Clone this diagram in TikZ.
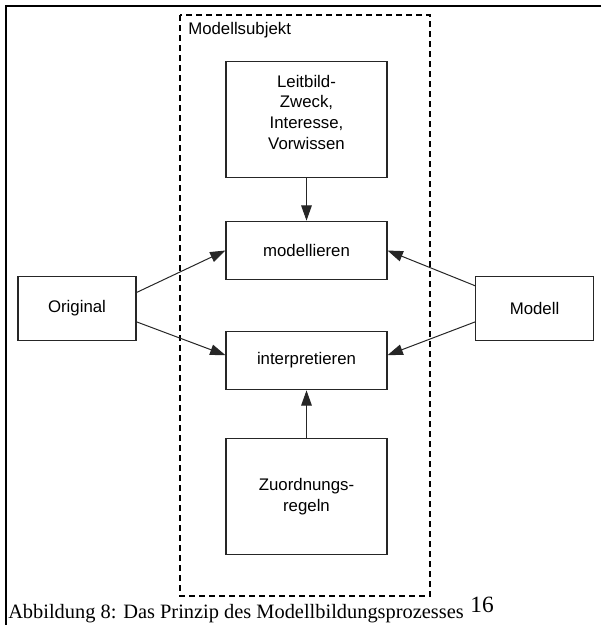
\documentclass[tikz,border=0pt]{standalone}
\usepackage{fontspec}
\setmainfont{Liberation Serif}
\newfontfamily\diagfont{Liberation Sans}
\usetikzlibrary{arrows.meta,calc}
\tikzset{
  px/.style={x=0.75pt,y=-0.75pt},
  diagtext/.style={font=\diagfont\fontsize{12.6pt}{15.5pt}\selectfont,align=center},
  box/.style={draw=black!85,line width=0.8pt,minimum width=120.75pt,diagtext,inner sep=0pt},
  link/.style={draw=black!85,line width=0.75pt,-{Triangle[length=11.5pt,width=8pt]}},
  frameline/.style={line width=1.6pt},
  subjectbox/.style={line width=1.4pt,dash pattern=on 4.5pt off 3pt}
}
\begin{document}
\begin{tikzpicture}[px]
\useasboundingbox (0,0) rectangle (601,625);
% outer frame (top and left edges)
\draw[frameline] (601,6) -- (6,6) -- (6,625);
% modelling subject
\draw[subjectbox] (180,15) rectangle (430,596);
\node[anchor=north west,diagtext,inner sep=0pt] (subj) at (188,22) {Modellsubjekt};
% boxes
\node[box,minimum height=87pt,
  label={[diagtext,yshift=5.5pt]center:Leitbild-\\Zweck,\\Interesse,\\Vorwissen}] (leit) at (306.5,119.5) {};
\node[box,minimum height=44pt] (mod) at (306.5,250.5) {modellieren};
\node[box,minimum height=44pt] (int) at (306.5,360.5) {interpretieren};
\node[box,minimum height=87pt] (zuo) at (306.5,496.5) {Zuordnungs-\\regeln};
\node[box,minimum width=88.5pt,minimum height=47.5pt] (orig) at (77,308.5) {Original};
\node[box,minimum width=88pt,minimum height=47.5pt] (modl) at (534.5,308.5) {Modell};
% connectors
\draw[link] (leit) -- (mod);
\draw[link] (zuo) -- (int);
\draw[link] ([yshift=12pt]orig.east) -- (mod.west);
\draw[link] ([yshift=-10pt]orig.east) -- ([yshift=4pt]int.west);
\draw[link] ([yshift=17pt]modl.west) -- (mod.east);
\draw[link] ([yshift=-10pt]modl.west) -- ([yshift=4pt]int.east);
% caption
\node[anchor=base west,inner sep=0pt,font=\fontsize{15.3pt}{17pt}\selectfont] (cap) at (8,618)
  {Abbildung 8: Das Prinzip des Modellbildungsprozesses\hspace{5pt}\raisebox{4.5pt}{\fontsize{17.5pt}{19pt}\selectfont 16}};
\end{tikzpicture}
\end{document}
